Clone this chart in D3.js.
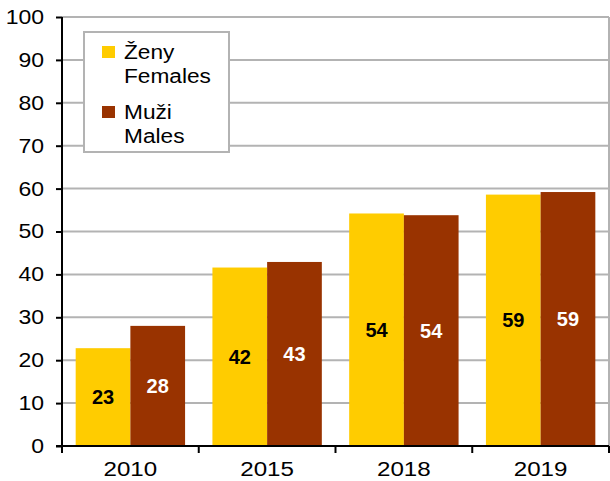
<!DOCTYPE html>
<html>
<head>
<meta charset="utf-8">
<script src="https://cdn.jsdelivr.net/npm/d3@7"></script>
<style>
  body { margin: 0; background: #fff; }
  text { font-family: "Liberation Sans", Arial, sans-serif; }
</style>
</head>
<body>
<div id="chart"></div>
<script>
// data
const years = ["2010", "2015", "2018", "2019"];
const females = [22.8, 41.6, 54.2, 58.6];
const males = [28.0, 42.9, 53.8, 59.2];
const yTicks = [0, 10, 20, 30, 40, 50, 60, 70, 80, 90, 100];
const seriesNames = [["Ženy", "Females"], ["Muži", "Males"]];
const colors = ["#ffcc00", "#993300"];

const width = 610, height = 481;
const margin = {top: 17, right: 1, bottom: 35, left: 62};
const w = width - margin.left - margin.right;
const h = height - margin.top - margin.bottom;

// widen glyphs a little, the original font renders wider than Liberation
function stretch(sel, sx) {
  sel.each(function() {
    const t = d3.select(this);
    const tx = +t.attr("x") || 0, ty = +t.attr("y") || 0;
    t.attr("x", 0).attr("y", 0)
     .attr("transform", `translate(${tx},${ty}) scale(${sx},1)`);
  });
}

const svg = d3.select("#chart").append("svg")
    .attr("width", width)
    .attr("height", height);

const g = svg.append("g")
    .attr("transform", `translate(${margin.left},${margin.top})`);

const x0 = d3.scaleBand().domain(years).range([0, w]);
const xs = d3.scaleBand().domain([0, 1]).range([x0.bandwidth() * 0.1, x0.bandwidth() * 0.9]);
const y = d3.scaleLinear().domain([0, 100]).range([h, 0]);

// gridlines
g.append("g").selectAll("line")
    .data(yTicks.filter(d => d > 0))
    .join("line")
    .attr("x1", 0).attr("x2", w)
    .attr("y1", d => y(d)).attr("y2", d => y(d))
    .attr("stroke", "#b3b3b3").attr("stroke-width", 2);

// right border
g.append("line")
    .attr("x1", w).attr("x2", w).attr("y1", 0).attr("y2", h)
    .attr("stroke", "#b3b3b3").attr("stroke-width", 2);

// bars
const rows = years.map((yr, i) => ({year: yr, vals: [females[i], males[i]]}));
const groups = g.append("g").selectAll("g")
    .data(rows)
    .join("g")
    .attr("transform", d => `translate(${x0(d.year)},0)`);

groups.selectAll("rect")
    .data(d => d.vals.map((v, k) => ({v, k})))
    .join("rect")
    .attr("x", d => xs(d.k))
    .attr("width", xs.bandwidth())
    .attr("y", d => y(d.v))
    .attr("height", d => h - y(d.v))
    .attr("fill", d => colors[d.k]);

groups.selectAll("text.val")
    .data(d => d.vals.map((v, k) => ({v, k})))
    .join("text")
    .attr("class", "val")
    .attr("x", d => xs(d.k) + xs.bandwidth() / 2)
    .attr("y", d => (y(d.v) + h) / 2)
    .attr("dy", "0.35em")
    .attr("text-anchor", "middle")
    .attr("font-size", 20)
    .attr("font-weight", "bold")
    .attr("fill", d => d.k === 0 ? "#000" : "#fff")
    .text(d => Math.round(d.v));

// y axis
const yAxis = g.append("g")
    .call(d3.axisLeft(y).tickValues(yTicks).tickSize(6).tickPadding(12));
yAxis.select(".domain").attr("stroke-width", 2).attr("d", `M0,0V${h}`);
yAxis.selectAll(".tick line").attr("stroke-width", 2);
yAxis.selectAll("text").attr("font-size", 20).attr("fill", "#000").call(stretch, 1.15);

// x axis with ticks at category boundaries
const xAxis = g.append("g").attr("transform", `translate(0,${h})`);
xAxis.append("line").attr("x1", -6).attr("x2", w).attr("stroke", "#000").attr("stroke-width", 2);
xAxis.selectAll("line.tk")
    .data(years.map(d => x0(d)).concat([w]))
    .join("line")
    .attr("class", "tk")
    .attr("x1", d => d).attr("x2", d => d)
    .attr("y1", 0).attr("y2", 7)
    .attr("stroke", "#000").attr("stroke-width", 2);
xAxis.selectAll("text")
    .data(years)
    .join("text")
    .attr("x", d => x0(d) + x0.bandwidth() / 2)
    .attr("y", 30)
    .attr("text-anchor", "middle")
    .attr("font-size", 21)
    .text(d => d)
    .call(stretch, 1.15);

// legend
const legend = svg.append("g").attr("transform", "translate(84,32)");
legend.append("rect")
    .attr("width", 145).attr("height", 120)
    .attr("fill", "#fff").attr("stroke", "#b3b3b3").attr("stroke-width", 2);
seriesNames.forEach((names, i) => {
  const row = legend.append("g").attr("transform", `translate(0,${i * 60})`);
  row.append("rect")
      .attr("x", 18).attr("y", 14).attr("width", 13).attr("height", 12)
      .attr("fill", colors[i]);
  row.append("text").attr("x", 40).attr("y", 27).attr("font-size", 21).text(names[0]).call(stretch, 1.08);
  row.append("text").attr("x", 40).attr("y", 51).attr("font-size", 21).text(names[1]).call(stretch, 1.08);
});
</script>
</body>
</html>
